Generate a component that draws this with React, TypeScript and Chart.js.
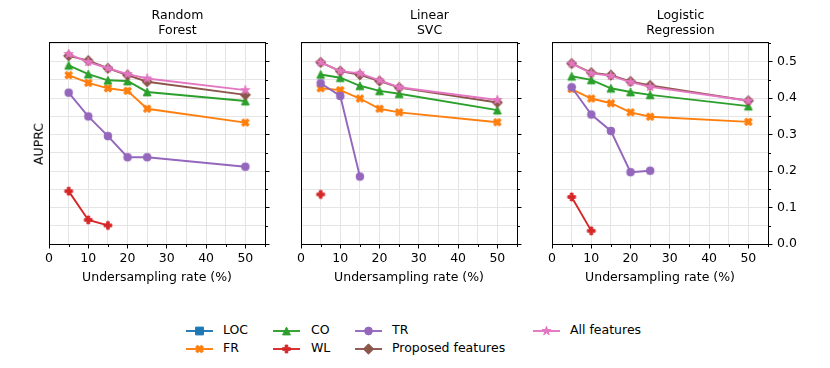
import React, { useEffect, useRef } from 'react';
import { Chart, registerables } from 'chart.js';
Chart.register(...registerables);

const FONT = '"DejaVu Sans", sans-serif';
const FS = 12.5;

const RATES = [5, 10, 15, 20, 25, 50];
const SERIES_NAMES = ['LOC', 'FR', 'CO', 'WL', 'TR', 'Proposed features', 'All features'];
const COLORS = ['#1f77b4', '#ff7f0e', '#2ca02c', '#d62728', '#9467bd', '#8c564b', '#e377c2'];
const MARKERS = ['square', 'x', 'triangle', 'plus', 'circle', 'diamond', 'star'];
const PANEL_TITLES = [['Random', 'Forest'], ['Linear', 'SVC'], ['Logistic', 'Regression']];
const X_TICK_LABELS = [0, 10, 20, 30, 40, 50];
const Y_TICK_LABELS = [0.0, 0.1, 0.2, 0.3, 0.4, 0.5];
const X_TITLE = 'Undersampling rate (%)';
const Y_TITLE = 'AUPRC';

// Random Forest
const RF_LOC = [null, null, null, null, null, null];
const RF_FR = [0.463, 0.442, 0.427, 0.420, 0.371, 0.333];
const RF_CO = [0.490, 0.466, 0.449, 0.447, 0.417, 0.392];
const RF_WL = [0.145, 0.066, 0.051, null, null, null];
const RF_TR = [0.415, 0.350, 0.296, 0.238, 0.238, 0.212];
const RF_PROP = [0.516, 0.503, 0.482, 0.463, 0.445, 0.409];
const RF_ALL = [0.521, 0.499, 0.482, 0.466, 0.454, 0.422];

// Linear SVC
const SVC_LOC = [null, null, null, null, null, null];
const SVC_FR = [0.427, 0.422, 0.399, 0.371, 0.361, 0.334];
const SVC_CO = [0.465, 0.456, 0.434, 0.420, 0.412, 0.367];
const SVC_WL = [0.136, null, null, null, null, null];
const SVC_TR = [0.441, 0.406, 0.185, null, null, null];
const SVC_PROP = [0.498, 0.474, 0.464, 0.447, 0.429, 0.388];
const SVC_ALL = [0.498, 0.474, 0.468, 0.449, 0.430, 0.395];

// Logistic Regression
const LR_LOC = [null, null, null, null, null, null];
const LR_FR = [0.425, 0.399, 0.386, 0.361, 0.349, 0.335];
const LR_CO = [0.460, 0.450, 0.427, 0.417, 0.409, 0.378];
const LR_WL = [0.129, 0.036, null, null, null, null];
const LR_TR = [0.430, 0.355, 0.310, 0.197, 0.201, null];
const LR_PROP = [0.495, 0.470, 0.463, 0.446, 0.435, 0.393];
const LR_ALL = [0.495, 0.468, 0.461, 0.444, 0.431, 0.393];

const PANELS = [
  [RF_LOC, RF_FR, RF_CO, RF_WL, RF_TR, RF_PROP, RF_ALL],
  [SVC_LOC, SVC_FR, SVC_CO, SVC_WL, SVC_TR, SVC_PROP, SVC_ALL],
  [LR_LOC, LR_FR, LR_CO, LR_WL, LR_TR, LR_PROP, LR_ALL],
];

const PLOT_LEFTS = [49, 301, 552];
const PLOT_W = 216;
const PAD_L = 49;
const Y_AXIS_W = 41;
const PAD_R = 9;
const CANVAS_W = PAD_L + PLOT_W + Y_AXIS_W + PAD_R;
const CANVAS_H = 300;
const MAJOR_LEN = 4.5;
const MINOR_LEN = 2.5;

const isMajorX = (v: number) => X_TICK_LABELS.some((l) => Math.abs(l - v) < 1e-6);
const isMajorY = (v: number) => Y_TICK_LABELS.some((l) => Math.abs(l - v) < 1e-6);

function drawMarker(ctx: CanvasRenderingContext2D, shape: string, cx: number, cy: number, color: string) {
  ctx.save();
  ctx.translate(cx, cy);
  ctx.fillStyle = color;
  ctx.strokeStyle = color;
  ctx.lineWidth = 1;
  ctx.lineJoin = 'miter';
  ctx.beginPath();
  const s = 7.8;
  if (shape === 'circle') {
    ctx.arc(0, 0, s / 2, 0, Math.PI * 2);
  } else if (shape === 'square') {
    ctx.rect(-s / 2, -s / 2, s, s);
  } else if (shape === 'triangle') {
    ctx.moveTo(0, -s / 2);
    ctx.lineTo(s / 2, s / 2);
    ctx.lineTo(-s / 2, s / 2);
    ctx.closePath();
  } else if (shape === 'diamond') {
    const r = s * 0.66;
    ctx.moveTo(0, -r);
    ctx.lineTo(r, 0);
    ctx.lineTo(0, r);
    ctx.lineTo(-r, 0);
    ctx.closePath();
  } else if (shape === 'star') {
    const R = s * 0.6;
    const r = R * 0.382;
    for (let k = 0; k < 10; k++) {
      const rad = k % 2 === 0 ? R : r;
      const a = -Math.PI / 2 + (k * Math.PI) / 5;
      const px = rad * Math.cos(a);
      const py = rad * Math.sin(a);
      if (k === 0) ctx.moveTo(px, py);
      else ctx.lineTo(px, py);
    }
    ctx.closePath();
  } else if (shape === 'plus') {
    const pts = [[-1, -3], [1, -3], [1, -1], [3, -1], [3, 1], [1, 1], [1, 3], [-1, 3], [-1, 1], [-3, 1], [-3, -1], [-1, -1]];
    pts.forEach(([px, py], k) => {
      const X = (px / 6) * s;
      const Y = (py / 6) * s;
      if (k === 0) ctx.moveTo(X, Y);
      else ctx.lineTo(X, Y);
    });
    ctx.closePath();
  } else if (shape === 'x') {
    const pts = [[-1, -2], [0, -1], [1, -2], [2, -1], [1, 0], [2, 1], [1, 2], [0, 1], [-1, 2], [-2, 1], [-1, 0], [-2, -1]];
    pts.forEach(([px, py], k) => {
      const X = (px / 4) * s;
      const Y = (py / 4) * s;
      if (k === 0) ctx.moveTo(X, Y);
      else ctx.lineTo(X, Y);
    });
    ctx.closePath();
  }
  ctx.fill();
  ctx.stroke();
  ctx.restore();
}

function makeMarkerCanvas(shape: string, color: string) {
  const c = document.createElement('canvas');
  c.width = 16;
  c.height = 16;
  const ctx = c.getContext('2d')!;
  drawMarker(ctx, shape, 8, 8, color);
  return c;
}

const framePlugin = {
  id: 'frame',
  afterDraw(chart: any) {
    const { ctx, chartArea: a, scales } = chart;
    ctx.save();
    ctx.strokeStyle = '#000';
    ctx.lineWidth = 1;
    // minor ticks
    ctx.beginPath();
    const bottom = Math.round(a.bottom) + 0.5;
    const right = Math.round(a.right) + 0.5;
    scales.x.ticks.forEach((t: any) => {
      if (!isMajorX(t.value)) {
        const px = Math.round(scales.x.getPixelForValue(t.value)) + 0.5;
        ctx.moveTo(px, bottom);
        ctx.lineTo(px, bottom + MINOR_LEN);
      }
    });
    scales.y.ticks.forEach((t: any) => {
      if (!isMajorY(t.value)) {
        const py = Math.round(scales.y.getPixelForValue(t.value)) + 0.5;
        ctx.moveTo(right, py);
        ctx.lineTo(right + MINOR_LEN, py);
      }
    });
    ctx.stroke();
    ctx.strokeRect(Math.round(a.left) + 0.5, Math.round(a.top) + 0.5, Math.round(a.right - a.left), Math.round(a.bottom - a.top));
    ctx.restore();
  },
};

function Panel({ index }: { index: number }) {
  const ref = useRef<HTMLCanvasElement>(null);
  useEffect(() => {
    const series = PANELS[index];
    const datasets = series.map((vals, i) => {
      const pts = RATES.map((r, k) => ({ x: r, y: vals[k] })).filter((p) => p.y !== null);
      return {
        label: SERIES_NAMES[i],
        data: pts,
        borderColor: COLORS[i],
        backgroundColor: COLORS[i],
        borderWidth: 1.9,
        pointStyle: makeMarkerCanvas(MARKERS[i], COLORS[i]),
        pointRadius: 5,
        pointHoverRadius: 5,
        tension: 0,
        order: 10 - i,
      };
    });
    const chart = new Chart(ref.current!, {
      type: 'line',
      data: { datasets: datasets as any },
      options: {
        animation: false,
        responsive: false,
        events: [],
        layout: { padding: { left: PAD_L, right: PAD_R, top: 0, bottom: 15 }, autoPadding: false } as any,
        plugins: {
          legend: { display: false },
          tooltip: { enabled: false },
          title: {
            display: true,
            text: PANEL_TITLES[index],
            color: '#000',
            font: { family: FONT, size: FS, weight: 'normal' as any, lineHeight: 1.2 },
            padding: { top: 8, bottom: 4 },
          },
        },
        scales: {
          x: {
            type: 'linear',
            min: 0,
            max: 55,
            ticks: {
              stepSize: 5,
              autoSkip: false,
              maxRotation: 0,
              color: '#000',
              font: { family: FONT, size: FS },
              padding: 3,
              callback: (v: any) => (isMajorX(v) ? String(Math.round(v)) : ''),
            },
            grid: {
              color: '#e5e5e5',
              lineWidth: 1,
              tickColor: (c: any) => (c.tick && isMajorX(c.tick.value) ? '#000' : 'rgba(0,0,0,0)'),
              tickLength: MAJOR_LEN,
              drawTicks: true,
            },
            border: { display: false },
            title: { display: true, text: X_TITLE, color: '#000', font: { family: FONT, size: FS }, padding: 0 },
            afterFit: (s: any) => {
              s.height = 41;
            },
          },
          y: {
            type: 'linear',
            position: 'right',
            min: 0,
            max: 0.554,
            ticks: {
              stepSize: 0.05,
              includeBounds: false,
              display: index === 2,
              color: '#000',
              font: { family: FONT, size: FS },
              padding: 4.5,
              callback: (v: any) => {
                const m = Y_TICK_LABELS.find((l) => Math.abs(l - v) < 1e-6);
                return m === undefined ? '' : m.toFixed(1);
              },
            },
            grid: {
              color: '#e5e5e5',
              lineWidth: 1,
              tickColor: (c: any) => (c.tick && isMajorY(c.tick.value) ? '#000' : 'rgba(0,0,0,0)'),
              tickLength: MAJOR_LEN,
              drawTicks: true,
            },
            border: { display: false },
            afterFit: (s: any) => {
              s.width = Y_AXIS_W;
            },
          },
        },
      } as any,
      plugins: [framePlugin],
    });
    return () => chart.destroy();
  }, [index]);
  return (
    <canvas
      ref={ref}
      width={CANVAS_W}
      height={CANVAS_H}
      style={{ position: 'absolute', left: PLOT_LEFTS[index] - PAD_L, top: 0, width: CANVAS_W, height: CANVAS_H }}
    />
  );
}

function LegendIcon({ i }: { i: number }) {
  const ref = useRef<HTMLCanvasElement>(null);
  useEffect(() => {
    const c = ref.current!;
    const ctx = c.getContext('2d')!;
    ctx.clearRect(0, 0, c.width, c.height);
    ctx.strokeStyle = COLORS[i];
    ctx.lineWidth = 1.9;
    ctx.beginPath();
    ctx.moveTo(1, 8);
    ctx.lineTo(28, 8);
    ctx.stroke();
    drawMarker(ctx, MARKERS[i], 14.5, 8, COLORS[i]);
  }, [i]);
  return <canvas ref={ref} width={30} height={16} style={{ position: 'absolute', left: -1, top: -8 }} />;
}

const LEGEND_COLS = [186, 273, 355, 533];
const LEGEND_TEXT_OFF = [37, 38, 37, 37];
const LEGEND_ROWS = [331, 349];
const LEGEND_LAYOUT = [
  [0, 0],
  [0, 1],
  [1, 0],
  [1, 1],
  [2, 0],
  [2, 1],
  [3, 0],
];

export default function App() {
  const textStyle: React.CSSProperties = {
    position: 'absolute',
    fontFamily: FONT,
    fontSize: FS,
    color: '#000',
    whiteSpace: 'nowrap',
    lineHeight: 1,
  };
  return (
    <div style={{ position: 'absolute', left: 0, top: 0, width: 830, height: 368, background: '#fff', overflow: 'hidden' }}>
      {[0, 1, 2].map((i) => (
        <Panel key={i} index={i} />
      ))}
      <div style={{ ...textStyle, left: 39, top: 144, transform: 'translate(-50%, -50%) rotate(-90deg)' }}>{Y_TITLE}</div>
      {LEGEND_LAYOUT.map(([col, row], i) => (
        <div key={i} style={{ position: 'absolute', left: LEGEND_COLS[col], top: LEGEND_ROWS[row] }}>
          <LegendIcon i={i} />
          <div style={{ ...textStyle, left: LEGEND_TEXT_OFF[col], top: -7 }}>{SERIES_NAMES[i]}</div>
        </div>
      ))}
    </div>
  );
}
